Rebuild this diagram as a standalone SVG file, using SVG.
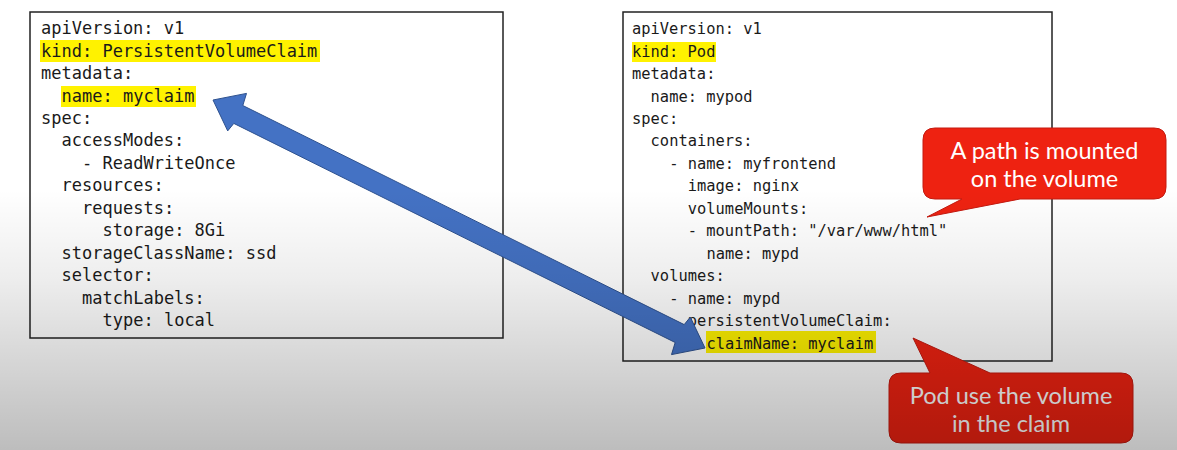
<svg xmlns="http://www.w3.org/2000/svg" width="1177" height="450" viewBox="0 0 1177 450">
<defs>
<linearGradient id="shade" x1="0" y1="0" x2="0" y2="450" gradientUnits="userSpaceOnUse">
<stop offset="0.42" stop-color="#000" stop-opacity="0"/>
<stop offset="0.62" stop-color="#000" stop-opacity="0.07"/>
<stop offset="1" stop-color="#000" stop-opacity="0.26"/>
</linearGradient>
<style>
.box{fill:#fff;stroke:#222;stroke-width:1.5}
.code{font-family:"DejaVu Sans Mono","Liberation Mono",monospace;fill:#1a1a1a}
.l{font-size:17px}
.r{font-size:15.4px}
.hl{fill:#FFF200}
.callout{fill:#EE2211;stroke:#C41A10;stroke-width:1}
.ct{font-family:Lato,"Open Sans",sans-serif;font-size:23.5px;fill:#fff;text-anchor:middle}
.arrow{fill:#4472C4;stroke:#2F528F;stroke-width:1}
</style>
</defs>
<rect x="0" y="0" width="1177" height="450" fill="#fff"/>

<g id="pvc">
<rect class="box" x="30" y="12" width="473" height="326"/>
<rect class="hl" x="40" y="40" width="280" height="22"/>
<rect class="hl" x="61" y="86" width="135" height="21"/>
<g class="code l">
<text x="41" y="34">apiVersion: v1</text>
<text x="41" y="56.5">kind: PersistentVolumeClaim</text>
<text x="41" y="79">metadata:</text>
<text x="61.5" y="101.5">name: myclaim</text>
<text x="41" y="124">spec:</text>
<text x="61.5" y="146">accessModes:</text>
<text x="82" y="168.5">- ReadWriteOnce</text>
<text x="61.5" y="191">resources:</text>
<text x="82" y="213.5">requests:</text>
<text x="102.5" y="236">storage: 8Gi</text>
<text x="61.5" y="258.5">storageClassName: ssd</text>
<text x="61.5" y="281">selector:</text>
<text x="82" y="303.5">matchLabels:</text>
<text x="102.5" y="326">type: local</text>
</g>
</g>

<g id="pod">
<rect class="box" x="623" y="12" width="429" height="349"/>
<rect class="hl" x="632" y="42" width="84" height="20"/>
<rect class="hl" x="706" y="331" width="170" height="22"/>
<g class="code r">
<text x="632" y="34">apiVersion: v1</text>
<text x="632" y="56.5">kind: Pod</text>
<text x="632" y="79">metadata:</text>
<text x="650.6" y="101.5">name: mypod</text>
<text x="632" y="124">spec:</text>
<text x="650.6" y="146">containers:</text>
<text x="669.2" y="168.5">- name: myfrontend</text>
<text x="687.8" y="191">image: nginx</text>
<text x="687.8" y="213.5">volumeMounts:</text>
<text x="687.8" y="236">- mountPath: "/var/www/html"</text>
<text x="706.4" y="258.5">name: mypd</text>
<text x="650.6" y="281">volumes:</text>
<text x="669.2" y="303.5">- name: mypd</text>
<text x="687.8" y="326">persistentVolumeClaim:</text>
<text x="706.4" y="348.5">claimName: myclaim</text>
</g>
</g>

<g id="connectors">
<polygon class="arrow" points="213,100 246.5,93.4 242.8,105.5 684.2,324.6 690.3,317.1 705,348 671.5,354.6 675.2,342.5 233.8,123.4 227.7,130.9"/>
</g>

<g id="callout-mount">
<path class="callout" d="M935,128 H1154 Q1166,128 1166,140 V187 Q1166,199 1154,199 H1020 L927,217 L962,199 H935 Q923,199 923,187 V140 Q923,128 935,128 Z"/>
<text class="ct" x="1044.5" y="158.5">A path is mounted</text>
<text class="ct" x="1044.5" y="186.5">on the volume</text>
</g>

<g id="callout-claim">
<path class="callout" d="M901,373 H930 L913,338 L990,373 H1121 Q1133,373 1133,385 V431 Q1133,443 1121,443 H901 Q889,443 889,431 V385 Q889,373 901,373 Z"/>
<text class="ct" x="1011" y="403.5">Pod use the volume</text>
<text class="ct" x="1011" y="431.5">in the claim</text>
</g>

<rect x="0" y="0" width="1177" height="450" fill="url(#shade)" pointer-events="none"/>
</svg>
